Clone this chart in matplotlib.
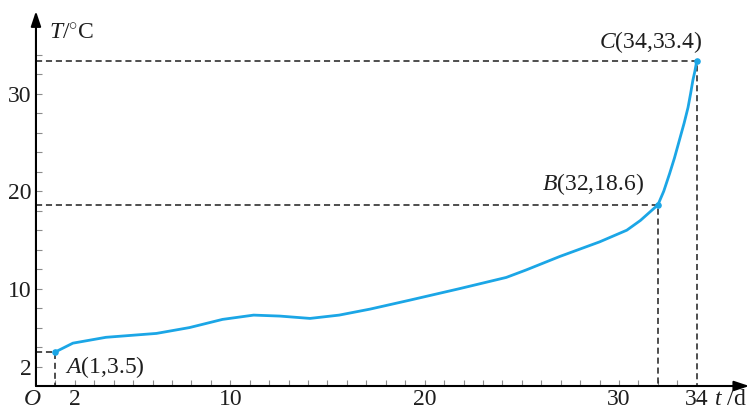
import numpy as np
import matplotlib.pyplot as plt

plt.rcParams['font.family'] = ['Liberation Serif', 'DejaVu Serif']
plt.rcParams['mathtext.fontset'] = 'custom'
plt.rcParams['mathtext.rm'] = 'Liberation Serif'
plt.rcParams['mathtext.it'] = 'Liberation Serif:italic'

# 温度曲线 (t 天, T 摄氏度)
t = [1, 1.9, 3.6, 6.2, 7.9, 9.6, 11.2, 12.55, 14.1, 15.6, 17.2, 19.2, 21.8,
     24.2, 25.2, 26.95, 29.0, 30.4, 31.1, 32, 32.3, 32.6, 32.85, 33.1, 33.35,
     33.55, 33.68, 33.8, 33.9, 34]
T = [3.5, 4.4, 5.0, 5.4, 6.0, 6.84, 7.28, 7.18, 6.94, 7.28, 7.9, 8.8, 10.0,
     11.15, 11.9, 13.3, 14.8, 16.0, 17.0, 18.6, 20.0, 21.8, 23.4, 25.2, 27.0,
     28.6, 30.0, 31.4, 32.3, 33.4]

# 标注点
pts_t = [1, 32, 34]
pts_T = [3.5, 18.6, 33.4]

xtick_labels = {2: '2', 10: '10', 20: '20', 30: '30', 34: '34'}
ytick_labels = {2: '2', 10: '10', 20: '20', 30: '30'}

blue = '#1ba6e6'
ink = '#1e1e1e'
fs = 17

fig = plt.figure(figsize=(7.54, 4.12), dpi=100)
ax = fig.add_axes([0.0477, 0.0631, 0.946, 0.910])
ax.set_xlim(0, 36.7)
ax.set_ylim(0, 38.5)
for s in ax.spines.values():
    s.set_visible(False)

# 坐标轴箭头
arrow = dict(arrowstyle='-|>,head_length=0.9,head_width=0.3', color='black', lw=1.5,
             shrinkA=0, shrinkB=0)
ax.annotate('', xy=(36.7, 0), xytext=(0, 0), arrowprops=arrow, annotation_clip=False)
ax.annotate('', xy=(0, 38.5), xytext=(0, 0), arrowprops=arrow, annotation_clip=False)

# 刻度
xt = list(range(1, 34))
ax.set_xticks(xt, [''] * len(xt))
yt = list(range(2, 36, 2))
ax.set_yticks(yt, [ytick_labels.get(v, '') for v in yt])
ax.tick_params(axis='both', direction='in', length=4, width=0.8, colors='#8c8c8c',
               labelcolor=ink, labelsize=fs)
ax.tick_params(axis='y', pad=3)
for tk in ax.xaxis.get_major_ticks() + ax.yaxis.get_major_ticks():
    if tk.get_loc() in (10, 20, 30):
        tk.tick1line.set_color(blue)
for v, lab in xtick_labels.items():
    ax.text(v, -2.0, lab, ha='center', va='baseline', fontsize=fs, color=ink)

# 虚线辅助线
for x0, y0 in zip(pts_t, pts_T):
    ax.plot([0, x0, x0], [y0, y0, 0], ls=(0, (4, 2.5)), color=ink, lw=1.1)

ax.plot(t, T, color=blue, lw=2, solid_capstyle='round', solid_joinstyle='round', zorder=3)
ax.scatter(pts_t, pts_T, s=14, color=blue, zorder=4)

ax.text(1.5, 1.9, r'$A$(1,3.5)', fontsize=fs, ha='left', va='center', color=ink)
ax.text(31.3, 20.7, r'$B$(32,18.6)', fontsize=fs, ha='right', va='center', color=ink)
ax.text(34.3, 35.3, r'$C$(34,33.4)', fontsize=fs, ha='right', va='center', color=ink)

ax.text(0.65, 36.2, r'$T$/$^{\circ}$C', fontsize=fs, ha='left', va='center', color=ink)
ax.text(-0.2, -2.0, r'$O$', fontsize=fs, ha='center', va='baseline', color=ink)
ax.text(35.7, -2.0, r'$t$ /d', fontsize=fs, ha='center', va='baseline', color=ink)

fig.savefig('out.png', dpi=100)
